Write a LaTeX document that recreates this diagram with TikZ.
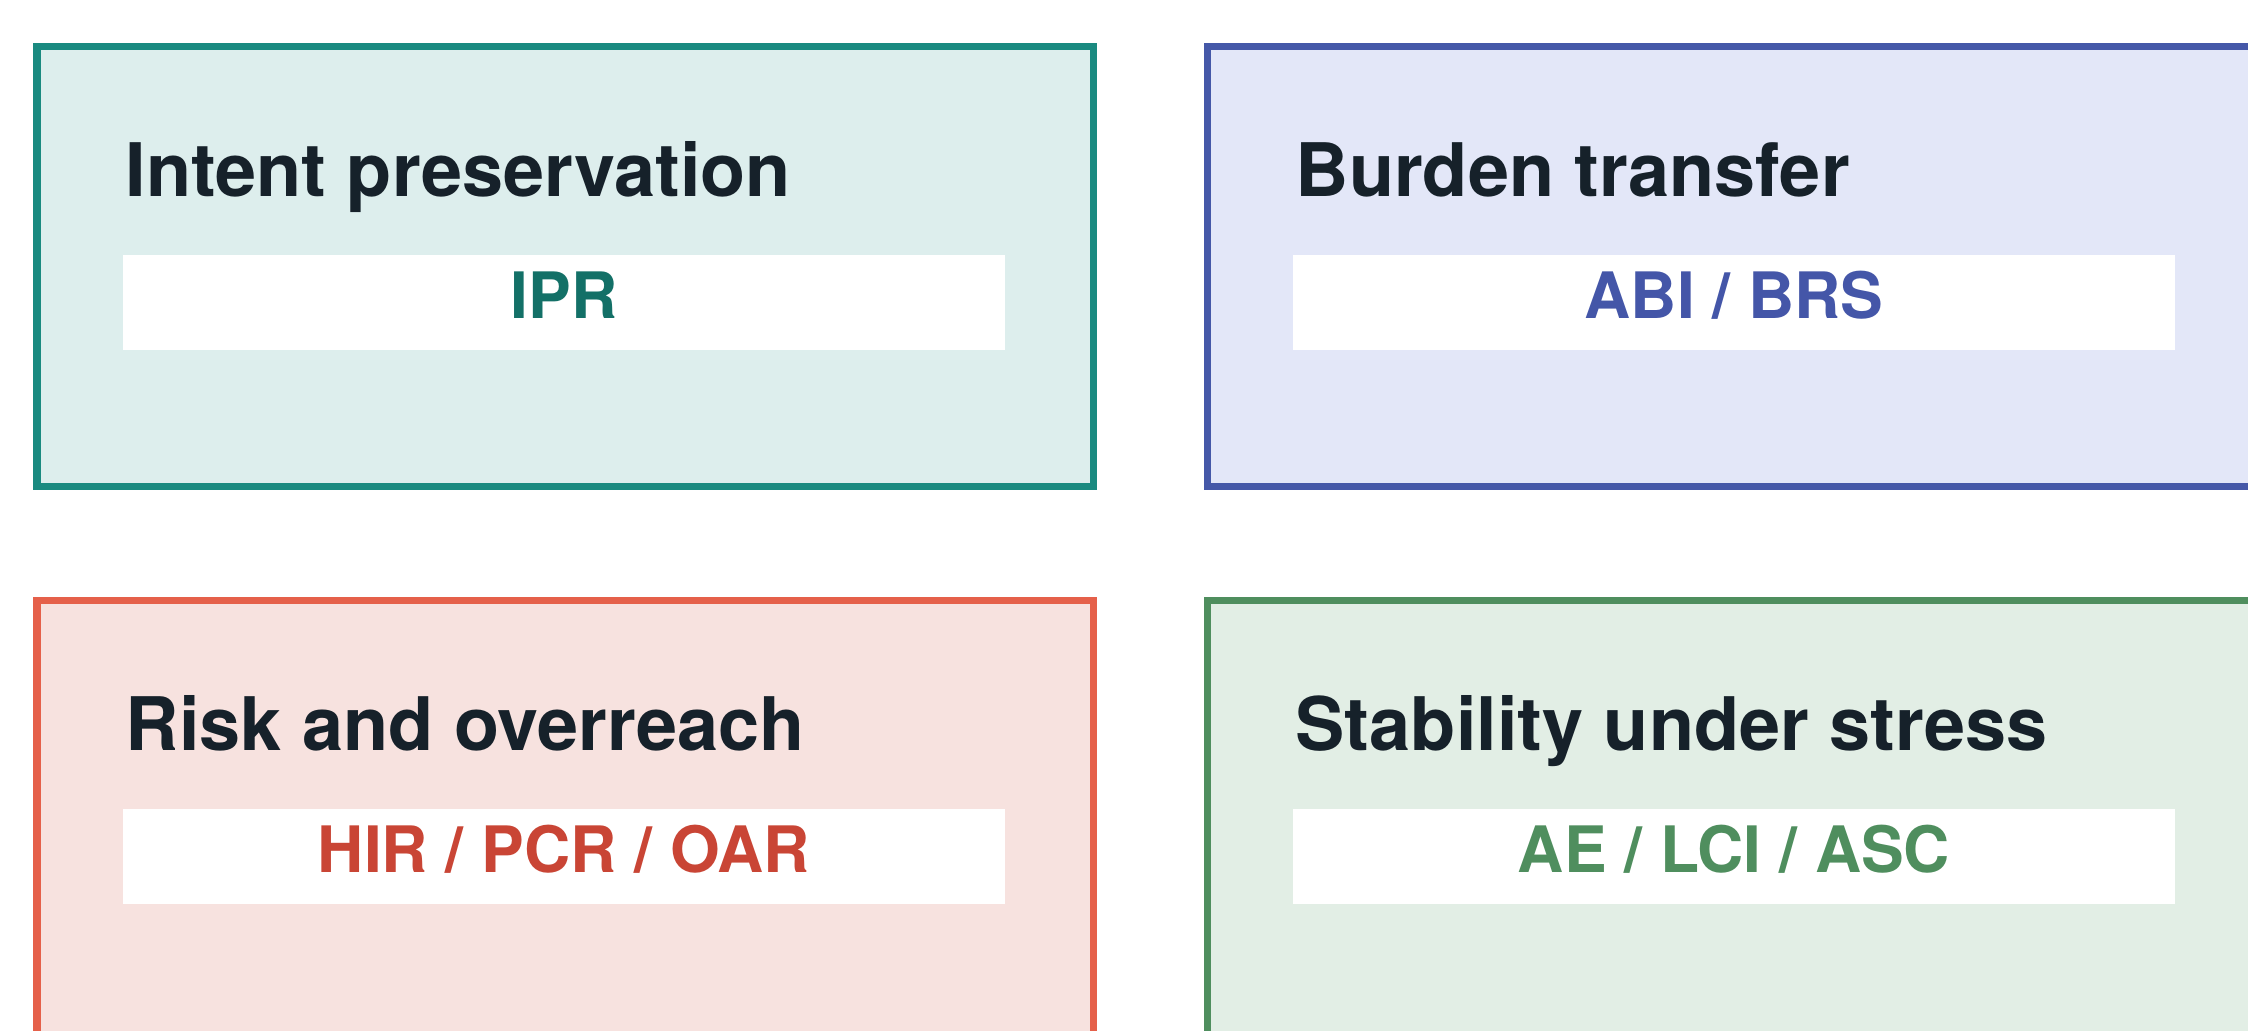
\documentclass[tikz,border=0pt]{standalone}
\usepackage{fontspec}
\setmainfont{TeX Gyre Heros}
\usepackage{xcolor}
\usepackage{tikz}
\definecolor{tline}{HTML}{1A8A80}
\definecolor{tfill}{HTML}{DDEEED}
\definecolor{ttext}{HTML}{137067}
\definecolor{bline}{HTML}{4558A8}
\definecolor{bfill}{HTML}{E3E7F8}
\definecolor{btext}{HTML}{4456A8}
\definecolor{rline}{HTML}{E5604A}
\definecolor{rfill}{HTML}{F7E2DF}
\definecolor{rtext}{HTML}{C94535}
\definecolor{gline}{HTML}{4F8E5E}
\definecolor{gfill}{HTML}{E2EEE5}
\definecolor{gtext}{HTML}{4F8E5E}
\definecolor{ink}{HTML}{16212A}

\begin{document}
\begin{tikzpicture}[x=0.01cm, y=-0.01cm]
  % page
  \clip (0,0) rectangle (2248,1030);
  \fill[white] (0,0) rectangle (2248,1030);

  % panels: name, x, y, line, fill, text colour, title, metrics
  \foreach \nm/\bx/\by/\cl/\cf/\ct/\ttl/\mt in {%
    intent/37/46/tline/tfill/ttext/Intent preservation/IPR,
    burden/1207/46/bline/bfill/btext/Burden transfer/{ABI / BRS},
    risk/37/600/rline/rfill/rtext/Risk and overreach/{HIR / PCR / OAR},
    stable/1207/600/gline/gfill/gtext/Stability under stress/{AE / LCI / ASC}}{
      \filldraw[draw=\cl,fill=\cf,line width=0.07cm] (\bx,\by) rectangle ++(1056,440);
      \fill[white] (\bx+86,\by+209) rectangle ++(882,95);
      \node[anchor=base west,inner sep=0pt,text=ink,
        font=\fontsize{21pt}{25pt}\selectfont\bfseries] (\nm-title) at (\bx+88,\by+150) {\ttl};
      \node[anchor=base,inner sep=0pt,text=\ct,
        font=\fontsize{18.2pt}{22pt}\selectfont\bfseries] (\nm-metric) at (\bx+527,\by+272) {\mt};
  }
\end{tikzpicture}
\end{document}
